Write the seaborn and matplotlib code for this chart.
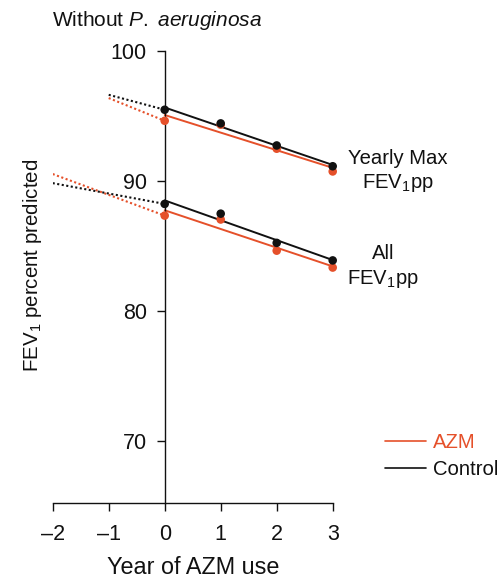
import matplotlib
matplotlib.use("Agg")
import matplotlib.pyplot as plt
from matplotlib.lines import Line2D
import seaborn as sns
import pandas as pd

# Years since starting azithromycin and observed FEV1pp means
years = [0, 1, 2, 3]
max_control = [95.5, 94.45, 92.75, 91.15]
max_azm = [94.65, 94.35, 92.5, 90.75]
all_control = [88.25, 87.5, 85.25, 83.9]
all_azm = [87.35, 87.05, 84.65, 83.35]

# Pre-treatment trends (dotted)
pre_max_years = [-1, 0]
pre_max_control = [96.65, 95.5]
pre_max_azm = [96.4, 94.65]
pre_all_years = [-2, 0]
pre_all_control = [89.85, 88.25]
pre_all_azm = [90.55, 87.35]

x_ticks = [-2, -1, 0, 1, 2, 3]
y_ticks = [70, 80, 90, 100]

ORANGE = "#E5502A"
BLACK = "#111111"

sns.set_theme(style="ticks")
plt.rcParams["font.family"] = ["Liberation Sans", "DejaVu Sans"]
plt.rcParams["mathtext.fontset"] = "custom"
plt.rcParams["mathtext.rm"] = "Liberation Sans"
plt.rcParams["mathtext.it"] = "Liberation Sans:italic"
plt.rcParams["mathtext.default"] = "regular"

FS_TICK = 15.5
FS_NOTE = 14.6

fig = plt.figure(figsize=(5.02, 5.79), dpi=100)
W, H = 502, 579
left_px, right_px = 52.7, 332.7
top_px, bottom_px = 51.3, 503.3
ax = fig.add_axes([left_px / W, 1 - bottom_px / H,
                   (right_px - left_px) / W, (bottom_px - top_px) / H])

groups = [
    (all_azm, all_control, pre_all_years, pre_all_azm, pre_all_control),
    (max_azm, max_control, pre_max_years, pre_max_azm, pre_max_control),
]

for azm, ctl, pre_x, pre_azm, pre_ctl in groups:
    for vals, pre_vals, color in [(azm, pre_azm, ORANGE), (ctl, pre_ctl, BLACK)]:
        df = pd.DataFrame({"year": years, "fev": vals})
        sns.lineplot(x=pre_x, y=pre_vals, ax=ax, color=color,
                     linestyle=(0, (1, 1.2)), linewidth=1.5)
        sns.regplot(data=df, x="year", y="fev", ax=ax, ci=None, scatter=False,
                    truncate=True, color=color, line_kws={"linewidth": 1.4})
        sns.scatterplot(data=df, x="year", y="fev", ax=ax, color=color,
                        s=38, edgecolor="none", clip_on=False, zorder=4)

ax.set_xlim(-2, 3)
ax.set_ylim(65.2, 100)
ax.set_xticks(x_ticks)
ax.set_yticks(y_ticks)
ax.set_xticklabels([f"{t}".replace("-", "\u2013") for t in x_ticks])
ax.tick_params(axis="both", labelsize=FS_TICK, length=6, width=1,
               color=BLACK, labelcolor=BLACK)
ax.tick_params(axis="y", pad=7)
ax.tick_params(axis="x", pad=9)

for s in ["top", "right"]:
    ax.spines[s].set_visible(False)
ax.spines["left"].set_position(("data", 0))
for s in ["left", "bottom"]:
    ax.spines[s].set_linewidth(1)
    ax.spines[s].set_color(BLACK)

ax.set_xlabel("Year of AZM use", fontsize=16.8, color=BLACK, labelpad=8)
ax.set_ylabel("")

fig.text(33 / W, 1 - 265 / H, r"FEV$_{\mathregular{1}}$ percent predicted",
         rotation=90, ha="center", va="center", fontsize=14.8, color=BLACK)
fig.text(52 / W, 1 - 20 / H, r"Without $\mathit{P.\ aeruginosa}$",
         ha="left", va="center", fontsize=15, color=BLACK)

fig.text(398 / W, 1 - 158 / H, "Yearly Max", ha="center", va="center",
         fontsize=FS_NOTE, color=BLACK)
fig.text(398 / W, 1 - 183 / H, r"FEV$_{\mathregular{1}}$pp", ha="center",
         va="center", fontsize=FS_NOTE, color=BLACK)
fig.text(383 / W, 1 - 254 / H, "All", ha="center", va="center",
         fontsize=FS_NOTE, color=BLACK)
fig.text(383 / W, 1 - 279 / H, r"FEV$_{\mathregular{1}}$pp", ha="center",
         va="center", fontsize=FS_NOTE, color=BLACK)

handles = [Line2D([], [], color=ORANGE, linewidth=1.2),
           Line2D([], [], color=BLACK, linewidth=1.2)]
leg = fig.legend(handles, ["AZM", "Control"], loc="upper left",
                 bbox_to_anchor=(385 / W, 1 - 433 / H), frameon=False,
                 fontsize=FS_NOTE, handlelength=2.0, handletextpad=0.35,
                 labelspacing=0.38, borderpad=0, borderaxespad=0)
leg.get_texts()[0].set_color(ORANGE)
leg.get_texts()[1].set_color(BLACK)

fig.savefig("out.png", dpi=100)
